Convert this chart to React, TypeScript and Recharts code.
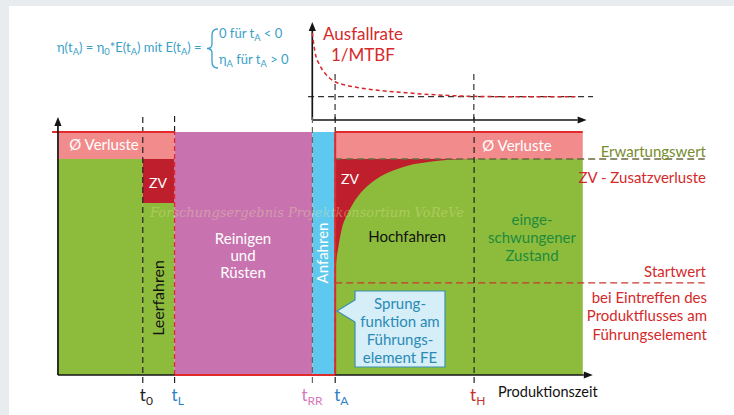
import React from "react";
import { ComposedChart, Area, Line, XAxis, YAxis, ReferenceLine } from "recharts";

// ============================================================================
// Data
// ============================================================================

// phase change points on the production time axis (t0, tL, tRR, tA, tH)
const PHASE_SUBS = ["0", "L", "RR", "A", "H"];
const PHASE_TIMES = [16, 22, 48, 52.3, 78.5];
const T_END = 99; // end of the drawn production period
const T_AXIS_END = 100.9;
const T_GUIDE_END = 122; // dashed guides run out to the legend texts

// efficiency levels (eta)
const ETA_TOP = 100;
const ETA_EXPECTED = 88.9; // Erwartungswert
const ETA_ZV_LEER = 70.8; // lower edge of ZV while Leerfahren
const ETA_START = 37.9; // Startwert

// Hochfahren: eta rising from the Startwert to the Erwartungswert
const HOCH_T = [52.3, 52.45, 52.9, 53.5, 54.5, 55.7, 57.6, 60.75, 63.9, 67.0, 70.2, 73.3, 76.5, 80, 99];
const HOCH_ETA = [37.9, 45, 52.8, 59.7, 65.8, 70.7, 76.1, 81.6, 84.7, 86.7, 87.8, 88.5, 88.8, 88.9, 88.9];

// Ausfallrate 1/MTBF (small chart)
const FAIL_T = [48, 48.5, 49.4, 50.4, 51.3, 52.3, 54.2, 56.7, 60.4, 65.5, 71.8, 78.1, 84.3, 90.6, 98.2];
const FAIL_RATE = [89, 69.7, 56, 47.7, 42.6, 39, 35.7, 33, 30.3, 27.9, 25.5, 24.2, 23.8, 23.8, 23.8];
const FAIL_LEVEL = 23.8;

// ============================================================================
// Styles
// ============================================================================

const FONT = "Lato, 'Open Sans', sans-serif";
const GREEN = "#8dbc3c";
const LOSS = "#f28c8c";
const ZV = "#bf1f2d";
const MAGENTA = "#c873b0";
const CYAN = "#5ec8ee";
const RED = "#e12b2b";
const TEAL = "#3a9fc6";
const PHASE_COLORS = ["#222", "#2f7fc4", "#d577bc", "#2f7fc4", "#c92f2a"];
const TICK_SHIFT = [-3, -3, -11, -1, -4];

const [t0, tL, tRR, tA, tH] = PHASE_TIMES;

const block = (from: number, to: number, lo: number, hi: number) => [
  { t: from, r: [lo, hi] },
  { t: to, r: [lo, hi] },
];

const failData = FAIL_T.map((t, i) => ({ t, v: FAIL_RATE[i] }));
const zvHoch = HOCH_T.map((t, i) => ({ t, r: [HOCH_ETA[i], ETA_EXPECTED] }));

// ============================================================================
// Helpers
// ============================================================================

const ArrowShape = (p: any) => {
  const { x1, y1, x2, y2 } = p;
  const a = Math.atan2(y2 - y1, x2 - x1);
  const len = 9;
  const half = 3.6;
  const bx = x2 - len * Math.cos(a);
  const by = y2 - len * Math.sin(a);
  const nx = -Math.sin(a) * half;
  const ny = Math.cos(a) * half;
  return (
    <g>
      <line x1={x1} y1={y1} x2={bx} y2={by} stroke="#151515" strokeWidth={1.7} />
      <polygon points={`${x2},${y2} ${bx + nx},${by + ny} ${bx - nx},${by - ny}`} fill="#151515" />
    </g>
  );
};

const PhaseTick = (p: any) => {
  const { x, y, payload } = p;
  const i = PHASE_TIMES.indexOf(payload.value);
  return (
    <text x={x + TICK_SHIFT[i]} y={y + 18} fill={PHASE_COLORS[i]} fontSize={17} fontFamily={FONT}>
      t
      <tspan dy={4} fontSize={12}>
        {PHASE_SUBS[i]}
      </tspan>
    </text>
  );
};

function Txt({
  x,
  y,
  color,
  size = 15,
  align = "center",
  rotate,
  lh = 1.15,
  children,
  style,
}: any) {
  const tx = align === "center" ? "-50%" : align === "right" ? "-100%" : "0";
  return (
    <div
      style={{
        position: "absolute",
        left: x,
        top: y,
        transform: `translate(${tx}, -50%)${rotate ? ` rotate(${rotate}deg)` : ""}`,
        color,
        fontSize: size,
        lineHeight: lh,
        textAlign: align,
        whiteSpace: "nowrap",
        ...style,
      }}
    >
      {children}
    </div>
  );
}

const Sub = ({ children }: any) => (
  <span style={{ fontSize: "0.72em", verticalAlign: "-0.25em" }}>{children}</span>
);

const areaProps = {
  type: "linear" as const,
  dataKey: "r",
  stroke: "none",
  fillOpacity: 1,
  dot: false,
  activeDot: false,
  isAnimationActive: false,
};

// ============================================================================
// Charts
// ============================================================================

function FailureRateChart() {
  return (
    <div style={{ position: "absolute", left: 0, top: 0 }}>
      <ComposedChart width={734} height={125} margin={{ top: 22, right: 141, left: 307, bottom: 5 }}>
        <XAxis type="number" dataKey="t" domain={[47, 101]} allowDataOverflow hide />
        <YAxis type="number" domain={[0, 100]} allowDataOverflow hide />
        <ReferenceLine
          segment={[{ x: 47.2, y: FAIL_LEVEL }, { x: 101, y: FAIL_LEVEL }]}
          stroke="#333"
          strokeWidth={1.2}
          strokeDasharray="6 4"
        />
        <ReferenceLine segment={[{ x: tA, y: 0 }, { x: tA, y: 51 }]} stroke="#333" strokeWidth={1.2} strokeDasharray="6 4" />
        <ReferenceLine segment={[{ x: tH, y: 0 }, { x: tH, y: 51 }]} stroke="#333" strokeWidth={1.2} strokeDasharray="6 4" />
        <ReferenceLine segment={[{ x: tRR, y: 0 }, { x: tRR, y: 100 }]} shape={ArrowShape} />
        <ReferenceLine segment={[{ x: tRR, y: 0 }, { x: 99.8, y: 0 }]} shape={ArrowShape} />
        <Line
          data={failData}
          dataKey="v"
          type="monotone"
          stroke="#d8262b"
          strokeWidth={1.5}
          strokeDasharray="4 3"
          dot={false}
          activeDot={false}
          isAnimationActive={false}
        />
      </ComposedChart>
    </div>
  );
}

function ProcessChart() {
  const dashed = { stroke: "#222", strokeWidth: 1.2, strokeDasharray: "6 4" };
  return (
    <div style={{ position: "absolute", left: 0, top: 0 }}>
      <ComposedChart width={734} height={415} margin={{ top: 115, right: 24, left: 50, bottom: 0 }}>
        <XAxis
          type="number"
          dataKey="t"
          domain={[-1.5, 123]}
          allowDataOverflow
          ticks={PHASE_TIMES}
          interval={0}
          tick={<PhaseTick />}
          tickSize={0}
          tickMargin={0}
          axisLine={false}
          height={32}
        />
        <YAxis type="number" domain={[-3.3, 107]} allowDataOverflow hide />

        <Area {...areaProps} data={block(0, t0, 0, ETA_EXPECTED)} fill={GREEN} />
        <Area {...areaProps} data={block(t0, tL, 0, ETA_ZV_LEER)} fill={GREEN} />
        <Area {...areaProps} data={block(t0, tL, ETA_ZV_LEER, ETA_EXPECTED)} fill={ZV} />
        <Area {...areaProps} data={block(0, tL, ETA_EXPECTED, ETA_TOP)} fill={LOSS} />
        <Area {...areaProps} data={block(tL, tRR, 0, ETA_TOP)} fill={MAGENTA} />
        <Area {...areaProps} data={block(tRR, tA, 0, ETA_TOP)} fill={CYAN} />
        <Area {...areaProps} data={block(tA, T_END, 0, ETA_EXPECTED)} fill={GREEN} />
        <Area {...areaProps} data={block(tA, T_END, ETA_EXPECTED, ETA_TOP)} fill={LOSS} />
        <Area {...areaProps} type="monotone" data={zvHoch} fill={ZV} />

        {/* guides */}
        <ReferenceLine
          segment={[{ x: tA, y: ETA_EXPECTED }, { x: T_GUIDE_END, y: ETA_EXPECTED }]}
          stroke="#6a6a40"
          strokeWidth={1.3}
          strokeDasharray="7 4"
        />
        <ReferenceLine
          segment={[{ x: tA, y: ETA_START }, { x: T_GUIDE_END, y: ETA_START }]}
          stroke="#c8382c"
          strokeWidth={1.3}
          strokeDasharray="7 4"
        />
        <ReferenceLine segment={[{ x: t0, y: -3.3 }, { x: t0, y: 107 }]} {...dashed} />
        <ReferenceLine segment={[{ x: tL, y: ETA_TOP }, { x: tL, y: 107 }]} {...dashed} />
        <ReferenceLine segment={[{ x: tL, y: -3.3 }, { x: tL, y: 0 }]} {...dashed} />
        <ReferenceLine segment={[{ x: tL, y: 0 }, { x: tL, y: ETA_TOP }]} stroke={RED} strokeWidth={1.3} strokeDasharray="5 3" />
        <ReferenceLine segment={[{ x: tRR, y: -3.3 }, { x: tRR, y: 107 }]} {...dashed} stroke="#666" />
        <ReferenceLine segment={[{ x: tA, y: -3.3 }, { x: tA, y: 107 }]} {...dashed} />
        <ReferenceLine segment={[{ x: tH, y: -3.3 }, { x: tH, y: 107 }]} {...dashed} />

        {/* red borders */}
        <ReferenceLine segment={[{ x: -1.1, y: ETA_TOP }, { x: tL, y: ETA_TOP }]} stroke={RED} strokeWidth={2.2} />
        <ReferenceLine segment={[{ x: tA, y: ETA_TOP }, { x: T_END, y: ETA_TOP }]} stroke={RED} strokeWidth={2.2} />
        <ReferenceLine segment={[{ x: tA, y: 0 }, { x: tA, y: ETA_TOP }]} stroke={RED} strokeWidth={2} />

        {/* axes */}
        <ReferenceLine segment={[{ x: 0, y: 0 }, { x: 0, y: 106.2 }]} shape={ArrowShape} />
        <ReferenceLine segment={[{ x: 0, y: 0 }, { x: T_AXIS_END, y: 0 }]} shape={ArrowShape} />
        <ReferenceLine segment={[{ x: tL, y: 0 }, { x: tA, y: 0 }]} stroke={RED} strokeWidth={2} />
      </ComposedChart>
    </div>
  );
}

// ============================================================================
// App
// ============================================================================

export default function App() {
  return (
    <div
      style={{
        position: "absolute",
        left: 0,
        top: 0,
        width: 734,
        height: 415,
        background: "#e8ecef",
        overflow: "hidden",
        fontFamily: FONT,
      }}
    >
      <div style={{ position: "absolute", left: 9, top: 6, right: 0, bottom: 0, background: "#fff" }} />

      <FailureRateChart />
      <ProcessChart />

      {/* brace and callout */}
      <svg width={734} height={415} style={{ position: "absolute", left: 0, top: 0 }}>
        <path
          d="M218,29 Q212,29 212,35 L212,44 Q212,48.5 207,48.5 Q212,48.5 212,53 L212,62 Q212,68 218,68"
          fill="none"
          stroke={TEAL}
          strokeWidth={1.3}
        />
        <path
          d="M355,291 H445 V367 H355 V322 L337,311 L355,300 Z"
          fill="#d5eef8"
          stroke="#3a8fb2"
          strokeWidth={1.2}
        />
      </svg>

      {/* watermark */}
      <Txt
        x={150}
        y={213}
        align="left"
        size={13}
        color="rgba(232,232,160,0.35)"
        style={{ fontFamily: "'DejaVu Serif', serif", fontStyle: "italic" }}
      >
        Forschungsergebnis Projektkonsortium VoReVe
      </Txt>

      {/* formula */}
      <Txt x={57} y={49} align="left" size={13} color={TEAL}>
        η(t<Sub>A</Sub>) = η<Sub>0</Sub>*E(t<Sub>A</Sub>) mit E(t<Sub>A</Sub>) =
      </Txt>
      <Txt x={219} y={35} align="left" size={13} color={TEAL}>
        0 für t<Sub>A</Sub> &lt; 0
      </Txt>
      <Txt x={219} y={61} align="left" size={13} color={TEAL}>
        η<Sub>A</Sub> für t<Sub>A</Sub> &gt; 0
      </Txt>

      <Txt x={363} y={44} size={17} lh={1.25} color="#d52a2a">
        Ausfallrate
        <br />
        1/MTBF
      </Txt>

      {/* region texts */}
      <Txt x={104} y={145} color="#fff">Ø Verluste</Txt>
      <Txt x={517} y={146} color="#fff">Ø Verluste</Txt>
      <Txt x={158} y={183} size={14} color="#fff">ZV</Txt>
      <Txt x={350} y={179} size={14} color="#fff">ZV</Txt>
      <Txt x={243} y={255} lh={1.13} color="#fff">
        Reinigen
        <br />
        und
        <br />
        Rüsten
      </Txt>
      <Txt x={323} y={253} rotate={-90} color="#fff">Anfahren</Txt>
      <Txt x={158} y={298} rotate={-90} size={16} color="#111">Leerfahren</Txt>
      <Txt x={407} y={237} color="#111">Hochfahren</Txt>
      <Txt x={532} y={237} lh={1.2} color="#1f8a3c">
        einge-
        <br />
        schwungener
        <br />
        Zustand
      </Txt>
      <Txt x={400} y={330} lh={1.2} color="#2a8ab6">
        Sprung-
        <br />
        funktion am
        <br />
        Führungs-
        <br />
        element FE
      </Txt>

      {/* legend texts on the right */}
      <Txt x={706} y={152} align="right" color="#778c2c">Erwartungswert</Txt>
      <Txt x={706} y={178} align="right" color="#d42a2a">ZV - Zusatzverluste</Txt>
      <Txt x={706} y={272} align="right" color="#d42a2a">Startwert</Txt>
      <Txt x={707} y={315} align="right" lh={1.22} color="#d42a2a">
        bei Eintreffen des
        <br />
        Produktflusses am
        <br />
        Führungselement
      </Txt>

      <Txt x={498} y={392} align="left" size={14.5} color="#111">Produktionszeit</Txt>
    </div>
  );
}
